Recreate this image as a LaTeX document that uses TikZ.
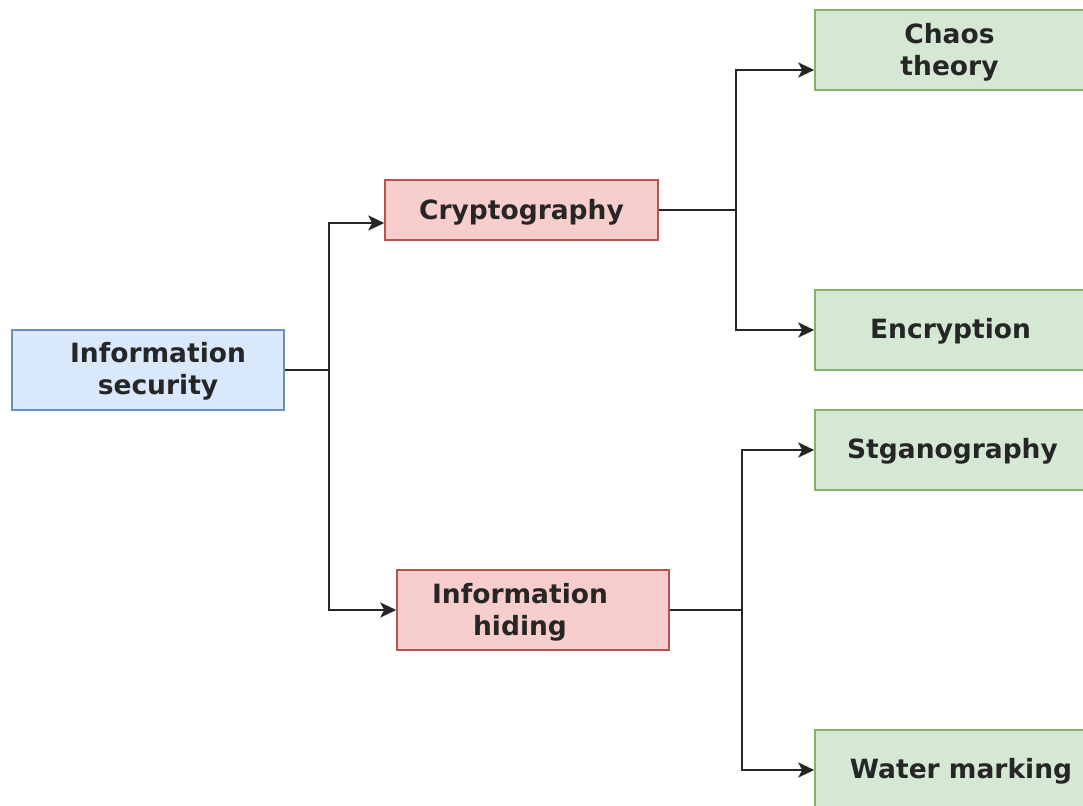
\documentclass[tikz,border=0pt]{standalone}
\usepackage{fontspec}
\setmainfont{DejaVu Sans}
\usetikzlibrary{arrows.meta}
\definecolor{bluefill}{HTML}{DAE8FC}
\definecolor{bluedraw}{HTML}{6C8EBF}
\definecolor{redfill}{HTML}{F8CECC}
\definecolor{reddraw}{HTML}{B85450}
\definecolor{greenfill}{HTML}{D5E8D4}
\definecolor{greendraw}{HTML}{82B366}
\begin{document}
\begin{tikzpicture}[x=1pt,y=-1pt,
  box/.style={draw, line width=1.5pt, inner sep=0pt},
  lbl/.style={inner sep=0pt, align=center, text=black!85,
    font=\fontsize{26.5}{32}\selectfont\bfseries},
  bluebox/.style={box, fill=bluefill, draw=bluedraw},
  redbox/.style={box, fill=redfill, draw=reddraw},
  greenbox/.style={box, fill=greenfill, draw=greendraw, minimum width=275pt, minimum height=80pt},
  conn/.style={line width=2.6pt, draw=black!85},
  arr/.style={conn, -{Stealth[length=16pt,width=15pt,inset=4pt]}}]
\useasboundingbox (0,0) rectangle (1083,805);
\clip (0,0) rectangle (1083,805);
\fill[white] (0,0) rectangle (1083,805);
% boxes
\node[bluebox, minimum width=272pt, minimum height=80pt] (is) at (148,370) {};
\node[redbox, minimum width=273pt, minimum height=60pt] (cr) at (521.5,210) {};
\node[redbox, minimum width=272pt, minimum height=80pt] (ih) at (533,610) {};
\node[greenbox] (ct) at (952.5,50) {};
\node[greenbox] (en) at (952.5,330) {};
\node[greenbox] (st) at (952.5,450) {};
\node[greenbox] (wm) at (952.5,770) {};
% labels
\node[lbl] (is-t) at ([xshift=10pt,yshift=-1pt]is.center) {Information\\security};
\node[lbl] (cr-t) at ([yshift=-2pt]cr.center) {Cryptography};
\node[lbl] (ih-t) at ([xshift=-13pt,yshift=-2pt]ih.center) {Information\\hiding};
\node[lbl] (ct-t) at ([xshift=-3pt,yshift=-2pt]ct.center) {Chaos\\theory};
\node[lbl] (en-t) at ([xshift=-2pt,yshift=-1pt]en.center) {Encryption};
\node[lbl] (st-t) at ([yshift=-1pt]st.center) {Stganography};
\node[lbl] (wm-t) at ([xshift=8.5pt,yshift=-1pt]wm.center) {Water marking};
% junctions
\coordinate (j1) at (329,370);
\coordinate (j2) at (736,210);
\coordinate (j3) at (742,610);
% connectors
\draw[conn] (is.east) -- (j1);
\draw[arr] (j1) |- ([yshift=-13pt]cr.west);
\draw[arr] (j1) |- (ih.west);
\draw[conn] (cr.east) -- (j2);
\draw[arr] (j2) |- ([yshift=-20pt]ct.west);
\draw[arr] (j2) |- (en.west);
\draw[conn] (ih.east) -- (j3);
\draw[arr] (j3) |- (st.west);
\draw[arr] (j3) |- (wm.west);
\end{tikzpicture}
\end{document}
